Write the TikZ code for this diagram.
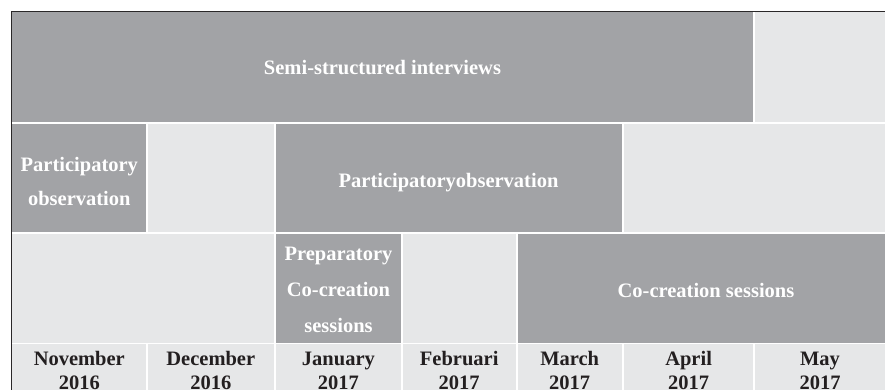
\documentclass[tikz,border=0pt]{standalone}
\usepackage{fontspec}
\setmainfont{Liberation Serif}
\definecolor{darkcell}{HTML}{A2A3A6}
\definecolor{lightcell}{HTML}{E6E7E8}
\definecolor{frameink}{HTML}{2A2829}
\definecolor{monthink}{HTML}{231F20}
\tikzset{
  dark/.style={fill=darkcell},
  light/.style={fill=lightcell},
  gap/.style={draw=white, line width=1.7pt},
  frame/.style={draw=frameink, line width=1.4pt},
  wtext/.style={text=white, font=\fontsize{20.5}{24}\bfseries, inner sep=0pt, anchor=base},
  mtext/.style={text=monthink, font=\fontsize{20.5}{24}\bfseries, inner sep=0pt, anchor=base},
}
\begin{document}
\begin{tikzpicture}[x=1pt,y=-1pt]
\useasboundingbox (0,0) rectangle (885,390);
\fill[white] (0,0) rectangle (885,390);
% row 1
\fill[dark]  (12,12) rectangle (754.3,123);
\fill[light] (754.3,12) rectangle (885,123);
% row 2
\fill[dark]  (12,123) rectangle (146.7,233);
\fill[light] (146.7,123) rectangle (275,233);
\fill[dark]  (275,123) rectangle (623,233);
\fill[light] (623,123) rectangle (885,233);
% row 3
\fill[light] (12,233) rectangle (275,343.5);
\fill[dark]  (275,233) rectangle (401.7,343.5);
\fill[light] (401.7,233) rectangle (516.7,343.5);
\fill[dark]  (516.7,233) rectangle (885,343.5);
% row 4
\fill[light] (12,343.5) rectangle (885,390);
% white gaps
\draw[gap] (12,123) -- (885,123);
\draw[gap] (12,233) -- (885,233);
\draw[gap] (12,343.5) -- (885,343.5);
\draw[gap] (754.3,12) -- (754.3,123);
\foreach \x in {146.7,275,623} \draw[gap] (\x,123) -- (\x,233);
\foreach \x in {275,401.7,516.7} \draw[gap] (\x,233) -- (\x,343.5);
\foreach \x in {146.7,275,401.7,516.7,623,754.3} \draw[gap] (\x,343.5) -- (\x,390);
% frame
\coordinate (tl) at (11.3,11.5);
\coordinate (tr) at (885,11.5);
\coordinate (bl) at (11.3,390);
\draw[frame] (tr) -- (tl) -- (bl);
% texts
\node[wtext] (ssi) at (382.5,75) {Semi-structured interviews};
\node[wtext] (po1) at (79.3,171.5) {\fontsize{20.5}{34}\selectfont\begin{tabular}[t]{@{}c@{}}Participatory\\observation\end{tabular}};
\node[wtext] (po2) at (448.5,187.3) {Participatoryobservation};
\node[wtext] (pcs) at (338.5,260.7) {\fontsize{20.5}{36}\selectfont\begin{tabular}[t]{@{}c@{}}Preparatory\\Co-creation\\sessions\end{tabular}};
\node[wtext] (ccs) at (706,297) {Co-creation sessions};
\foreach \cx/\m/\yr [count=\i] in {79.3/November/2016, 210.8/December/2016, 338.4/January/2017, 459.2/Februari/2017, 569.7/March/2017, 688.6/April/2017, 820/May/2017}
  \node[mtext] (month\i) at (\cx,365) {\fontsize{20.5}{24.7}\selectfont\begin{tabular}[t]{@{}c@{}}\m\\\yr\end{tabular}};
\end{tikzpicture}
\end{document}
